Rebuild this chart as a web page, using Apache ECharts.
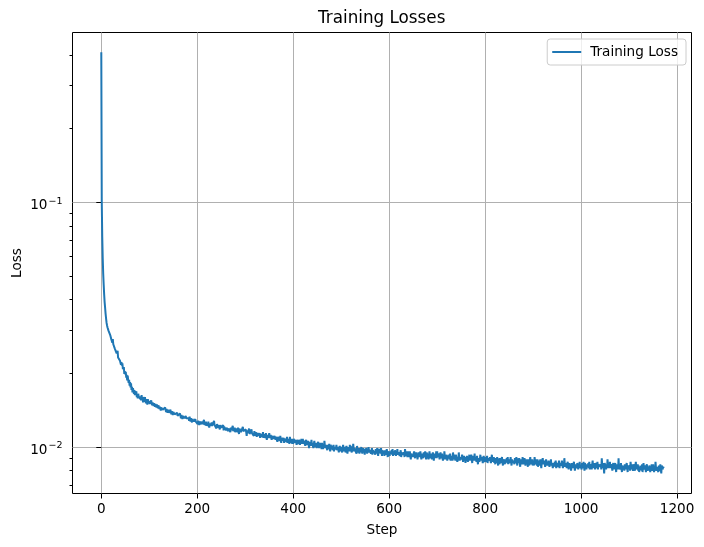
<!DOCTYPE html>
<html><head><meta charset="utf-8">
<script src="https://cdn.jsdelivr.net/npm/echarts@6/dist/echarts.min.js"></script>
<style>html,body{margin:0;padding:0;background:#fff}#c{width:704px;height:547px}</style>
</head><body><div id="c"></div>
<script>
const xTicks = [0, 200, 400, 600, 800, 1000, 1200];
const yMajorTicks = [0.01, 0.1];
const yMinorTicks = [0.007, 0.008, 0.009, 0.02, 0.03, 0.04, 0.05, 0.06, 0.07, 0.08, 0.09, 0.2, 0.3, 0.4];

const loss0_199 = [
.41,.10,.072,.059,.051,.046,.042,.039,.037,.035,.0335,.0322,.0314,.0308,.0303,.0299,.0296,.0292,.0289,.0285,
.0287,.0275,.0278,.0267,.0276,.0263,.0263,.0266,.0253,.0257,
.0249,.0255,.0241,.0245,.0247,.0232,.0236,.0228,.0234,.0225,
.0228,.0217,.0222,.0215,.0220,.0208,.0210,.0212,.0199,.0204,
.0198,.0203,.0192,.0197,.0187,.0196,.0188,.0183,.0188,.0178,
.0184,.0175,.0182,.0171,.0176,.0167,.0174,.0170,.0165,.0171,
.0163,.0169,.0163,.0169,.0160,.0164,.0158,.0165,.0161,.0158,
.0164,.0157,.0161,.0155,.0163,.0156,.0159,.0152,.0160,.0156,
.0153,.0160,.0154,.0151,.0157,.0155,.0149,.0157,.0151,.0154,
.0154,.0150,.0152,.0149,.0155,.0151,.0148,.0152,.0150,.0147,.0151,.0149,.0146,.0150,.0148,.0145,.0149,.0147,.0144,.0148,
.0147,.0143,.0146,.0144,.0141,.0145,.0143,.0146,.0142,.0144,.0140,.0143,.0141,.0145,.0142,.0139,.0143,.0141,.0138,.0142,
.0141,.0138,.0140,.0137,.0142,.0139,.0136,.0140,.0138,.0135,.0139,.0137,.0141,.0136,.0138,.0134,.0137,.0135,.0138,.0134,
.0136,.0133,.0135,.0132,.0137,.0134,.0131,.0135,.0133,.0130,.0134,.0132,.0136,.0131,.0133,.0130,.0134,.0131,.0133,.0129,
.0132,.0129,.0131,.0128,.0133,.0130,.0127,.0131,.0129,.0126,.0130,.0128,.0132,.0127,.0129,.0126,.0130,.0127,.0129,.0125
];
const loss200_399 = [
.0127,.0124,.0128,.0126,.0123,.0127,.0125,.0129,.0124,.0126,
.0127,.0124,.0122,.0126,.0129,.0123,.0125,.0124,.0127,.0122,
.0125,.0124,.0122,.0127,.0123,.0120,.0125,.0126,.0122,.0124,
.0126,.0122,.0120,.0124,.0121,.0128,.0123,.0121,.0124,.0122,
.0119,.0124,.0122,.0120,.0123,.0125,.0121,.0118,.0123,.0122,
.0120,.0122,.0118,.0119,.0123,.0117,.0121,.0120,.0122,.0119,
.0117,.0120,.0122,.0118,.0116,.0119,.0121,.0118,.0120,.0115,
.0120,.0117,.0115,.0119,.0122,.0116,.0118,.0117,.0120,.0115,
.0117,.0114,.0119,.0118,.0115,.0120,.0116,.0113,.0119,.0118,
.0119,.0115,.0113,.0117,.0114,.0121,.0116,.0114,.0117,.0115,
.0114,.0118,.0115,.0111,.0117,.0114,.0116,.0113,.0119,.0113,
.0113,.0115,.0111,.0118,.0114,.0112,.0116,.0113,.0111,.0116,
.0114,.0111,.0115,.0113,.0110,.0114,.0112,.0116,.0111,.0113,
.0114,.0109,.0113,.0112,.0111,.0114,.0110,.0115,.0109,.0113,
.0112,.0111,.0109,.0114,.0110,.0107,.0112,.0113,.0109,.0111,
.0114,.0109,.0108,.0112,.0110,.0107,.0111,.0113,.0108,.0109,
.0106,.0111,.0109,.0107,.0110,.0112,.0108,.0105,.0110,.0109,
.0109,.0108,.0106,.0111,.0107,.0104,.0109,.0110,.0106,.0108,
.0109,.0104,.0108,.0107,.0106,.0109,.0105,.0110,.0104,.0108,
.0105,.0107,.0103,.0110,.0106,.0104,.0108,.0105,.0103,.0108
];
const loss400_599 = [
.0103,.0108,.0106,.0104,.0107,.0109,.0105,.0102,.0107,.0106,
.0106,.0103,.0107,.0105,.0102,.0106,.0104,.0108,.0103,.0105,
.0108,.0103,.0102,.0106,.0104,.0101,.0105,.0107,.0102,.0103,
.0102,.0106,.0103,.0099,.0105,.0102,.0104,.0101,.0107,.0101,
.0104,.0101,.0099,.0103,.0106,.0100,.0102,.0101,.0104,.0099,
.0100,.0103,.0105,.0101,.0099,.0102,.0104,.0101,.0103,.0098,
.0104,.0100,.0098,.0102,.0099,.0106,.0101,.0099,.0102,.0100,
.0100,.0097,.0102,.0101,.0098,.0103,.0099,.0096,.0102,.0101,
.0099,.0101,.0097,.0098,.0102,.0096,.0100,.0099,.0101,.0098,
.0102,.0097,.0096,.0100,.0098,.0095,.0099,.0101,.0096,.0097,
.0100,.0097,.0095,.0099,.0102,.0096,.0098,.0097,.0100,.0095,
.0097,.0101,.0098,.0094,.0100,.0097,.0099,.0096,.0102,.0096,
.0101,.0097,.0095,.0099,.0096,.0103,.0098,.0096,.0099,.0097,
.0096,.0098,.0094,.0101,.0097,.0095,.0099,.0096,.0094,.0099,
.0095,.0098,.0100,.0096,.0094,.0097,.0099,.0096,.0098,.0093,
.0098,.0095,.0099,.0097,.0094,.0098,.0096,.0100,.0095,.0097,
.0096,.0098,.0094,.0095,.0099,.0093,.0097,.0096,.0098,.0095,
.0096,.0093,.0098,.0097,.0094,.0099,.0095,.0092,.0098,.0097,
.0097,.0096,.0094,.0099,.0095,.0092,.0097,.0098,.0094,.0096,
.0092,.0097,.0095,.0093,.0096,.0098,.0094,.0091,.0096,.0095
];
const loss600_799 = [
.0097,.0092,.0096,.0095,.0094,.0097,.0093,.0098,.0092,.0096,
.0096,.0093,.0097,.0095,.0092,.0096,.0094,.0098,.0093,.0095,
.0094,.0096,.0092,.0093,.0097,.0091,.0095,.0094,.0096,.0093,
.0093,.0095,.0091,.0098,.0094,.0092,.0096,.0093,.0091,.0096,
.0094,.0093,.0091,.0096,.0092,.0089,.0094,.0095,.0091,.0093,
.0091,.0094,.0096,.0092,.0090,.0093,.0095,.0092,.0094,.0089,
.0090,.0095,.0093,.0091,.0094,.0096,.0092,.0089,.0094,.0093,
.0093,.0090,.0095,.0094,.0091,.0096,.0092,.0089,.0095,.0094,
.0094,.0091,.0089,.0093,.0096,.0090,.0092,.0091,.0094,.0089,
.0091,.0095,.0092,.0088,.0094,.0091,.0093,.0090,.0096,.0090,
.0096,.0091,.0090,.0094,.0092,.0089,.0093,.0095,.0090,.0091,
.0094,.0090,.0088,.0092,.0089,.0096,.0091,.0089,.0092,.0090,
.0093,.0088,.0092,.0091,.0090,.0093,.0089,.0094,.0088,.0092,
.0090,.0092,.0088,.0095,.0091,.0089,.0093,.0090,.0088,.0093,
.0093,.0089,.0087,.0091,.0088,.0095,.0090,.0088,.0091,.0089,
.0088,.0091,.0093,.0089,.0087,.0090,.0092,.0089,.0091,.0086,
.0091,.0088,.0092,.0090,.0087,.0091,.0089,.0093,.0088,.0090,
.0089,.0093,.0090,.0086,.0092,.0089,.0091,.0088,.0094,.0088,
.0090,.0089,.0087,.0092,.0088,.0085,.0090,.0091,.0087,.0089,
.0093,.0088,.0087,.0091,.0089,.0086,.0090,.0092,.0087,.0088
];
const loss800_999 = [
.0089,.0091,.0087,.0088,.0092,.0086,.0090,.0089,.0091,.0088,
.0091,.0088,.0086,.0090,.0093,.0087,.0089,.0088,.0091,.0086,
.0088,.0085,.0090,.0089,.0086,.0091,.0087,.0084,.0090,.0089,
.0085,.0090,.0088,.0086,.0089,.0091,.0087,.0084,.0089,.0088,
.0090,.0085,.0089,.0088,.0087,.0090,.0086,.0091,.0085,.0089,
.0089,.0088,.0086,.0091,.0087,.0084,.0089,.0090,.0086,.0088,
.0088,.0085,.0090,.0089,.0086,.0091,.0087,.0084,.0090,.0089,
.0086,.0090,.0087,.0083,.0089,.0086,.0088,.0085,.0091,.0085,
.0085,.0088,.0090,.0086,.0084,.0087,.0089,.0086,.0088,.0083,
.0089,.0086,.0084,.0088,.0091,.0085,.0087,.0086,.0089,.0084,
.0086,.0088,.0084,.0091,.0087,.0085,.0089,.0086,.0084,.0089,
.0083,.0088,.0086,.0084,.0087,.0089,.0085,.0082,.0087,.0086,
.0090,.0085,.0084,.0088,.0086,.0083,.0087,.0089,.0084,.0085,
.0087,.0084,.0088,.0086,.0083,.0087,.0085,.0089,.0084,.0086,
.0087,.0082,.0086,.0085,.0084,.0087,.0083,.0088,.0082,.0086,
.0085,.0087,.0083,.0084,.0088,.0082,.0086,.0085,.0087,.0084,
.0088,.0084,.0082,.0086,.0083,.0090,.0085,.0083,.0086,.0084,
.0082,.0085,.0087,.0083,.0081,.0084,.0086,.0083,.0085,.0080,
.0081,.0086,.0084,.0082,.0085,.0087,.0083,.0080,.0085,.0084,
.0085,.0082,.0086,.0084,.0081,.0085,.0083,.0087,.0082,.0084
];
const loss1000_1173 = [
.0084,.0081,.0086,.0085,.0082,.0087,.0083,.0080,.0086,.0085,
.0086,.0081,.0085,.0084,.0083,.0086,.0082,.0087,.0081,.0085,
.0086,.0083,.0081,.0085,.0088,.0082,.0084,.0083,.0086,.0081,
.0084,.0086,.0082,.0083,.0087,.0081,.0085,.0084,.0086,.0083,
.0083,.0085,.0081,.0090,.0084,.0082,.0086,.0083,.0078,.0086,
.0087,.0083,.0081,.0085,.0082,.0089,.0084,.0082,.0085,.0083,
.0087,.0082,.0081,.0085,.0083,.0080,.0084,.0086,.0081,.0082,
.0082,.0086,.0083,.0079,.0085,.0082,.0084,.0081,.0090,.0081,
.0084,.0083,.0081,.0086,.0082,.0079,.0084,.0085,.0081,.0083,
.0080,.0085,.0083,.0081,.0084,.0086,.0082,.0079,.0084,.0083,
.0082,.0084,.0080,.0087,.0083,.0081,.0085,.0082,.0080,.0085,
.0085,.0082,.0080,.0084,.0087,.0081,.0083,.0082,.0085,.0080,
.0084,.0079,.0083,.0082,.0081,.0084,.0080,.0085,.0079,.0083,
.0086,.0081,.0080,.0084,.0082,.0079,.0083,.0085,.0080,.0081,
.0083,.0080,.0084,.0082,.0079,.0083,.0081,.0085,.0080,.0082,
.0085,.0081,.0079,.0083,.0080,.0087,.0082,.0080,.0083,.0081,
.0082,.0079,.0084,.0083,.0080,.0085,.0081,.0078,.0084,.0083,
.0081,.0083,.0082,.0082
];

const lossValues = [].concat(loss0_199, loss200_399, loss400_599, loss600_799, loss800_999, loss1000_1173);
const seriesData = lossValues.map((v, i) => [i, v]);

const FONT = 'DejaVu Sans';
const Y_MIN = 0.006456, Y_MAX = 0.4942;

const chart = echarts.init(document.getElementById('c'), null, { renderer: 'canvas' });
chart.setOption({
  animation: false,
  backgroundColor: '#ffffff',
  title: {
    text: 'Training Losses', left: 318, top: 10, padding: 0,
    textStyle: { fontFamily: FONT, fontSize: 16.8, fontWeight: 'normal', color: '#000' }
  },
  legend: {
    right: 18, top: 39, orient: 'vertical',
    padding: [6, 8, 6, 5], itemWidth: 29, itemHeight: 2, icon: 'rect',
    backgroundColor: 'rgba(255,255,255,0.8)', borderColor: '#cccccc', borderWidth: 1, borderRadius: 3,
    textStyle: { fontFamily: FONT, fontSize: 13.6, color: '#000', padding: [0, 0, 0, 4] },
    data: ['Training Loss']
  },
  grid: {
    left: 72.5, top: 32.5, width: 619, height: 461,
    show: true, borderColor: '#000', borderWidth: 1, backgroundColor: 'transparent',
    containLabel: false, outerBoundsMode: 'none'
  },
  xAxis: {
    type: 'value', min: -60, max: 1230,
    name: 'Step', nameLocation: 'middle', nameGap: 30, nameMoveOverlap: false,
    nameTextStyle: { fontFamily: FONT, fontSize: 13.6, color: '#000' },
    axisLine: { show: false },
    axisTick: { show: true, inside: false, length: 5, lineStyle: { color: '#000', width: 1 }, customValues: xTicks },
    axisLabel: { customValues: xTicks, margin: 9, fontFamily: FONT, fontSize: 13.6, color: '#000',
      formatter: function (v) { return String(v); } },
    splitLine: { show: true, lineStyle: { color: '#b0b0b0', width: 1 } }
  },
  yAxis: [
    {
      type: 'log', logBase: 10, min: Y_MIN, max: Y_MAX,
      name: 'Loss', nameLocation: 'middle', nameGap: 48, nameMoveOverlap: false,
      nameTextStyle: { fontFamily: FONT, fontSize: 13.6, color: '#000' },
      axisLine: { show: false },
      axisTick: { show: true, inside: false, length: 5, lineStyle: { color: '#000', width: 1 }, customValues: yMajorTicks },
      axisLabel: {
        customValues: yMajorTicks, margin: 10, color: '#000',
        formatter: function (v) {
          const e = Math.round(Math.log10(v));
          return '{b|10}{s|' + (e < 0 ? '\u2212' : '') + Math.abs(e) + '}';
        },
        rich: {
          b: { fontFamily: FONT, fontSize: 13.6, color: '#000', lineHeight: 14, padding: [6, 0, 0, 0] },
          s: { fontFamily: FONT, fontSize: 9.5, color: '#000', lineHeight: 10, padding: [2, 0, 4, 1] }
        }
      },
      splitLine: { show: true, lineStyle: { color: '#b0b0b0', width: 1 } }
    },
    {
      type: 'log', logBase: 10, min: Y_MIN, max: Y_MAX, position: 'left',
      axisLine: { show: false },
      axisTick: { show: true, inside: false, length: 3, lineStyle: { color: '#000', width: 1 }, customValues: yMinorTicks },
      axisLabel: { show: false },
      splitLine: { show: false }
    }
  ],
  series: [{
    name: 'Training Loss', type: 'line', data: seriesData, yAxisIndex: 0,
    symbol: 'none', showSymbol: false, sampling: null, silent: true,
    lineStyle: { color: '#1f77b4', width: 2 }, itemStyle: { color: '#1f77b4' }
  }]
});
</script></body></html>
